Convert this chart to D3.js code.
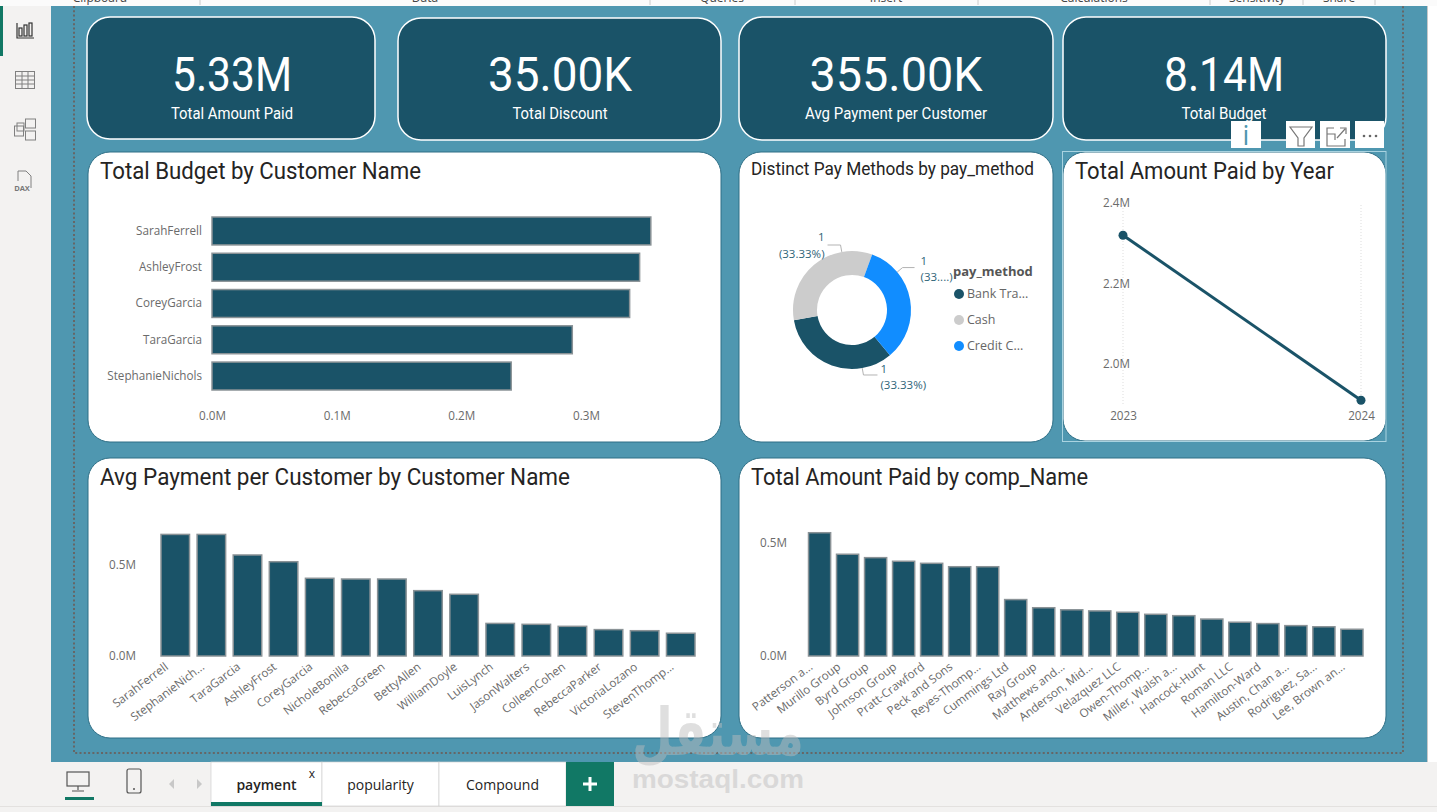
<!DOCTYPE html>
<html>
<head>
<meta charset="utf-8">
<script src="https://cdnjs.cloudflare.com/ajax/libs/d3/7.8.5/d3.min.js"></script>
<style>
    html, body { margin: 0; padding: 0; background: #f3f2f1; overflow: hidden; }
    svg { display: block; }
    text { font-family: "Open Sans", "Noto Sans", sans-serif; }
    .din { font-family: Roboto, sans-serif; font-weight: 400; }
    .axis text { font-size: 11.7px; fill: #6b6b6b; font-family: "Open Sans", sans-serif; }
    .axis .domain { display: none; }
</style>
</head>
<body>
<svg id="page" width="1437" height="812"></svg>

<script>
// data
const kpiValues = ["5.33M", "35.00K", "355.00K", "8.14M"];
const kpiLabels = ["Total Amount Paid", "Total Discount", "Avg Payment per Customer", "Total Budget"];

const budgetNames = ["SarahFerrell", "AshleyFrost", "CoreyGarcia", "TaraGarcia", "StephanieNichols"];
const budgetValues = [0.352, 0.343, 0.335, 0.289, 0.24];
const budgetTicks = [0, 0.1, 0.2, 0.3];

const payMethods = ["Bank Tra...", "Cash", "Credit C..."];
const payCounts = [1, 1, 1];
const payColors = ["#1a5368", "#cccccc", "#118dff"];

const years = [2023, 2024];
const paidByYear = [2.32, 1.91];
const yearTicks = [2.0, 2.2, 2.4];

const avgNames = ["SarahFerrell", "StephanieNich...", "TaraGarcia", "AshleyFrost", "CoreyGarcia", "NicholeBonilla", "RebeccaGreen", "BettyAllen", "WilliamDoyle", "LuisLynch", "JasonWalters", "ColleenCohen", "RebeccaParker", "VictoriaLozano", "StevenThomp..."];
const avgValues = [0.668, 0.668, 0.555, 0.518, 0.427, 0.423, 0.423, 0.359, 0.339, 0.179, 0.174, 0.163, 0.145, 0.139, 0.125];
const avgTicks = [0, 0.5];

const compNames = ["Patterson a...", "Murillo Group", "Byrd Group", "Johnson Group", "Pratt-Crawford", "Peck and Sons", "Reyes-Thomp...", "Cummings Ltd", "Ray Group", "Matthews and...", "Anderson, Mid...", "Velazquez LLC", "Owen-Thomp...", "Miller, Walsh a...", "Hancock-Hunt", "Roman LLC", "Hamilton-Ward", "Austin, Chan a...", "Rodriguez, Sa...", "Lee, Brown an..."];
const compValues = [0.544, 0.449, 0.434, 0.418, 0.409, 0.394, 0.394, 0.249, 0.213, 0.204, 0.199, 0.193, 0.184, 0.178, 0.163, 0.149, 0.143, 0.134, 0.129, 0.118];
const compTicks = [0, 0.5];

const ribbonLabels = ["Clipboard", "Data", "Queries", "Insert", "Calculations", "Sensitivity", "Share"];
const tabNames = ["payment", "popularity", "Compound"];

// colours
const DARK = "#1a5368", BG = "#4f97b0", GREEN = "#117865", BAR_EDGE = "#8a9296";

const svg = d3.select("#page");
const fmtM = d => d.toFixed(1) + "M";

// frame of the app
svg.append("rect").attr("width", 1437).attr("height", 812).attr("fill", "#f3f2f1");
svg.append("rect").attr("x", 51).attr("y", 6).attr("width", 1386).attr("height", 756).attr("fill", "#fff");
svg.append("rect").attr("x", 51).attr("y", 6).attr("width", 1376.5).attr("height", 756).attr("fill", BG);
svg.append("rect").attr("x", 1427).attr("y", 6).attr("width", 1).attr("height", 756).attr("fill", "#c8c8c8");

// ribbon remains
svg.append("rect").attr("width", 1437).attr("height", 6).attr("fill", "#fbfbfb");
const ribbonX = [100, 425, 722, 886, 1094, 1257, 1339];
ribbonLabels.forEach((t, i) => {
    svg.append("text").attr("x", ribbonX[i]).attr("y", 2).attr("text-anchor", "middle")
        .attr("font-size", 12).attr("fill", "#444").text(t);
});
[200, 650, 795, 978, 1210, 1303, 1375].forEach(x => {
    svg.append("line").attr("x1", x).attr("x2", x).attr("y1", 0).attr("y2", 5).attr("stroke", "#ccc");
});

// dotted page guide
svg.append("path").attr("d", "M74,6V753H1403V6")
    .attr("fill", "none").attr("stroke", "#666").attr("stroke-width", 2).attr("stroke-dasharray", "2 2.3");

// sidebar icons
svg.append("rect").attr("x", 0).attr("y", 6).attr("width", 3).attr("height", 50).attr("fill", GREEN);
const navBars = svg.append("g").attr("fill", "none").attr("stroke", "#333").attr("stroke-width", 1.2);
navBars.append("path").attr("d", "M17,23V38H34");
navBars.append("rect").attr("x", 19).attr("y", 28).attr("width", 3).attr("height", 8);
navBars.append("rect").attr("x", 24).attr("y", 25).attr("width", 3).attr("height", 11);
navBars.append("rect").attr("x", 29).attr("y", 23).attr("width", 3).attr("height", 13);
const navGrid = svg.append("g").attr("fill", "none").attr("stroke", "#808080");
navGrid.append("rect").attr("x", 15.5).attr("y", 71.5).attr("width", 19).attr("height", 17);
navGrid.append("path").attr("d", "M15.5,76H34.5M15.5,80H34.5M15.5,84H34.5M22,72V88M28,72V88");
const navModel = svg.append("g").attr("fill", "none").attr("stroke", "#808080");
[[14.5, 126, 9, 10], [25.5, 119, 10, 9], [25.5, 131, 10, 9], [17, 123, 7, 8]].forEach(r => {
    navModel.append("rect").attr("x", r[0]).attr("y", r[1]).attr("width", r[2]).attr("height", r[3]);
});
svg.append("path").attr("d", "M18,171H26L31,176V188M18,171V181")
    .attr("fill", "none").attr("stroke", "#808080");
svg.append("text").attr("x", 22).attr("y", 191).attr("text-anchor", "middle")
    .attr("font-size", 7.5).attr("font-weight", 700).attr("fill", "#777").text("DAX");

// KPI cards, widths squeeze Roboto to the narrow face of the original
const kpiBoxes = [[87, 17, 288, 122], [398, 18, 323, 122], [739, 17, 314, 123], [1063, 17, 323, 123]];
const kpiCentres = [232, 560, 896, 1224];
const kpiValueW = [120, 144, 173, 120];
const kpiLabelW = [122, 95, 182, 85];
kpiBoxes.forEach((b, i) => {
    svg.append("rect").attr("x", b[0]).attr("y", b[1]).attr("width", b[2]).attr("height", b[3])
        .attr("rx", 23).attr("fill", DARK).attr("stroke", "#fff").attr("stroke-width", 1.5);
    svg.append("text").attr("class", "din").attr("x", kpiCentres[i]).attr("y", 91).attr("text-anchor", "middle")
        .attr("font-size", 48).attr("textLength", kpiValueW[i]).attr("lengthAdjust", "spacingAndGlyphs")
        .attr("fill", "#fff").text(kpiValues[i]);
    svg.append("text").attr("class", "din").attr("x", kpiCentres[i]).attr("y", 119).attr("text-anchor", "middle")
        .attr("font-size", 16.5).attr("textLength", kpiLabelW[i]).attr("lengthAdjust", "spacingAndGlyphs")
        .attr("fill", "#fff").text(kpiLabels[i]);
});

// white panels
function panel(x, y, w, h, title, size, titleW) {
    svg.append("rect").attr("x", x).attr("y", y).attr("width", w).attr("height", h)
        .attr("rx", 22).attr("fill", "#fff").attr("stroke", "#2f6f86");
    svg.append("text").attr("class", "din").attr("x", x + 12).attr("y", y + (size > 20 ? 27 : 23))
        .attr("font-size", size).attr("textLength", titleW).attr("lengthAdjust", "spacingAndGlyphs")
        .attr("fill", "#252423").text(title);
}
panel(88, 152, 633, 290, "Total Budget by Customer Name", 23, 321);
panel(739, 152, 314, 290, "Distinct Pay Methods by pay_method", 17.5, 283);
panel(1063, 152, 323, 289, "Total Amount Paid by Year", 23, 259);
panel(88, 458, 633, 280, "Avg Payment per Customer by Customer Name", 23, 470);
panel(739, 458, 647, 280, "Total Amount Paid by comp_Name", 23, 337);

// horizontal bars
const budgetX = d3.scaleLinear().domain([0, 0.3]).range([212, 586]);
const budgetY = d3.scaleBand().domain(budgetNames).range([217, 390]).paddingInner(0.23).paddingOuter(0);
svg.append("g").attr("class", "axis").attr("transform", "translate(0,416)")
    .call(d3.axisBottom(budgetX).tickValues(budgetTicks).tickFormat(fmtM).tickSize(0).tickPadding(0))
    .selectAll("text").attr("dy", "0.35em");
svg.append("g").attr("class", "axis").attr("transform", "translate(212,0)")
    .call(d3.axisLeft(budgetY).tickSize(0).tickPadding(10));
svg.append("g").selectAll("rect").data(budgetValues).join("rect")
    .attr("x", budgetX(0))
    .attr("y", (d, i) => budgetY(budgetNames[i]))
    .attr("width", d => budgetX(d) - budgetX(0))
    .attr("height", budgetY.bandwidth())
    .attr("fill", DARK).attr("stroke", BAR_EDGE).attr("stroke-width", 1.5);

// donut
const donutCx = 852, donutCy = 310, donutR = 59;
const toRad = d => d * Math.PI / 180;
const pie = d3.pie().sort(null).startAngle(toRad(140)).endAngle(toRad(500));
const arc = d3.arc().innerRadius(35).outerRadius(donutR);
const arcs = pie(payCounts);
const donut = svg.append("g").attr("transform", `translate(${donutCx},${donutCy})`);
donut.selectAll("path").data(arcs).join("path")
    .attr("d", arc).attr("fill", (d, i) => payColors[i]);

// leader lines leave the ring off the slice middle, as in the original
const labelSetup = [
    { off: -30, anchor: "start", side: 1, run: 14, gap: 3, y1: 373, y2: 389 },
    { off: 30, anchor: "end", side: -1, run: 13, gap: -3, y1: 241, y2: 258 },
    { off: -30, anchor: "start", side: 1, run: 12, gap: 6, y1: 265, y2: 281 }
];
const labelText = ["(33.33%)", "(33.33%)", "(33....)"];
arcs.forEach((a, i) => {
    const s = labelSetup[i];
    const ang = (a.startAngle + a.endAngle) / 2 + toRad(s.off);
    const px = r => donutCx + r * Math.sin(ang), py = r => donutCy - r * Math.cos(ang);
    const endX = px(66) + s.side * s.run;
    svg.append("path").attr("d", d3.line()([[px(donutR), py(donutR)], [px(66), py(66)], [endX, py(66)]]))
        .attr("fill", "none").attr("stroke", "#b3b3b3");
    const lab = svg.append("g").attr("fill", "#2f6478").attr("font-size", 11.5).attr("text-anchor", s.anchor);
    lab.append("text").attr("x", endX + s.gap).attr("y", s.y1).text(payCounts[i]);
    lab.append("text").attr("x", endX + s.gap).attr("y", s.y2).text(labelText[i]);
});

// donut legend
svg.append("text").attr("x", 953).attr("y", 276).attr("font-size", 13).attr("font-weight", 700)
    .attr("fill", "#555").text("pay_method");
const legendY = d3.scalePoint().domain(payMethods).range([294, 346]);
const legend = svg.append("g").selectAll("g").data(payMethods).join("g")
    .attr("transform", d => `translate(959,${legendY(d)})`);
legend.append("circle").attr("r", 5).attr("fill", (d, i) => payColors[i]);
legend.append("text").attr("x", 8).attr("dy", "0.35em").attr("font-size", 12.5).attr("fill", "#666").text(d => d);

// line chart
const yearX = d3.scalePoint().domain(years).range([1123, 1361]);
const yearY = d3.scaleLinear().domain([2.0, 2.4]).range([364, 203]);
svg.append("g").selectAll("line").data(years).join("line")
    .attr("x1", d => yearX(d)).attr("x2", d => yearX(d)).attr("y1", 205).attr("y2", 405)
    .attr("stroke", "#ddd").attr("stroke-dasharray", "1 2");
svg.append("g").attr("class", "axis").attr("transform", "translate(1130,0)")
    .call(d3.axisLeft(yearY).tickValues(yearTicks).tickFormat(fmtM).tickSize(0).tickPadding(0));
svg.append("g").attr("class", "axis").attr("transform", "translate(0,416)")
    .call(d3.axisBottom(yearX).tickSize(0).tickPadding(0))
    .selectAll("text").attr("dy", "0.35em");
svg.append("path").datum(paidByYear)
    .attr("d", d3.line().x((d, i) => yearX(years[i])).y(d => yearY(d)))
    .attr("fill", "none").attr("stroke", DARK).attr("stroke-width", 3);
svg.append("g").selectAll("circle").data(paidByYear).join("circle")
    .attr("cx", (d, i) => yearX(years[i])).attr("cy", d => yearY(d)).attr("r", 4.5).attr("fill", DARK);

// focus frame and visual header on the line chart
svg.append("rect").attr("x", 1062.5).attr("y", 151.5).attr("width", 323.5).attr("height", 290)
    .attr("fill", "none").attr("stroke", "#a9d3e0");
[[1231, 30], [1286, 29], [1320, 30], [1355, 29]].forEach(b => {
    svg.append("rect").attr("x", b[0]).attr("y", 121).attr("width", b[1]).attr("height", 27).attr("fill", "#fff");
});
svg.append("text").attr("x", 1246).attr("y", 145).attr("text-anchor", "middle").attr("font-size", 27)
    .attr("fill", "#4f97b0").text("i");
svg.append("path").attr("d", "M1290,127H1312L1304,138V146H1298V138Z").attr("fill", "none").attr("stroke", "#777").attr("stroke-width", 1.2);
svg.append("path").attr("d", "M1334,128H1327V146H1345V139M1335,140V134H1327M1337,138L1345,129M1340,128H1346V134")
    .attr("fill", "none").attr("stroke", "#777").attr("stroke-width", 1.2);
[1364, 1370, 1376].forEach(x => {
    svg.append("circle").attr("cx", x).attr("cy", 136).attr("r", 1.3).attr("fill", "#666");
});

// vertical bar charts
function columns(names, values, ticks, xr, y0, yTickPx, tickVal, labelX) {
    const x = d3.scaleBand().domain(names).range(xr).paddingInner(0.21).paddingOuter(0);
    const y = d3.scaleLinear().domain([0, tickVal]).range([y0, yTickPx]);
    svg.append("g").attr("class", "axis").attr("transform", `translate(${labelX},0)`)
        .call(d3.axisLeft(y).tickValues(ticks).tickFormat(fmtM).tickSize(0).tickPadding(0));
    svg.append("g").attr("class", "axis").attr("transform", `translate(0,${y0 + 6})`)
        .call(d3.axisBottom(x).tickSize(0).tickPadding(0))
        .selectAll("text")
        .attr("text-anchor", "end").attr("dy", 5).attr("dx", -4)
        .attr("transform", "translate(-6,0) rotate(-37)");
    svg.append("g").selectAll("rect").data(values).join("rect")
        .attr("x", (d, i) => x(names[i]))
        .attr("y", d => y(d))
        .attr("width", x.bandwidth())
        .attr("height", d => y0 - y(d))
        .attr("fill", DARK).attr("stroke", BAR_EDGE).attr("stroke-width", 1.5);
}
columns(avgNames, avgValues, avgTicks, [161, 695], 656, 565, 0.5, 136);
columns(compNames, compValues, compTicks, [808.5, 1363], 656, 542.7, 0.5, 787);

// tabs
svg.append("rect").attr("x", 51).attr("y", 762).attr("width", 1386).attr("height", 44).attr("fill", "#f3f2f1");
svg.append("rect").attr("x", 0).attr("y", 806).attr("width", 1437).attr("height", 1).attr("fill", "#e3e1df");
const tabEdges = [211, 322, 439, 566];
tabNames.forEach((t, i) => {
    svg.append("rect").attr("x", tabEdges[i]).attr("y", 762).attr("width", tabEdges[i + 1] - tabEdges[i]).attr("height", 44)
        .attr("fill", "#fff").attr("stroke", "#d0d0d0").attr("stroke-width", 0.7);
    svg.append("text").attr("x", (tabEdges[i] + tabEdges[i + 1]) / 2).attr("y", 790).attr("text-anchor", "middle")
        .attr("font-size", 14).attr("font-weight", i === 0 ? 600 : 400).attr("fill", "#252423").text(t);
});
svg.append("rect").attr("x", 211).attr("y", 802).attr("width", 111).attr("height", 4).attr("fill", GREEN);
svg.append("text").attr("x", 312).attr("y", 778).attr("text-anchor", "middle").attr("font-size", 12).attr("fill", "#222").text("x");
svg.append("rect").attr("x", 566).attr("y", 762).attr("width", 48).attr("height", 44).attr("fill", GREEN);
svg.append("path").attr("d", "M590,777V791M583,784H597").attr("stroke", "#fff").attr("stroke-width", 3);

// report view icons
svg.append("rect").attr("x", 67).attr("y", 772).attr("width", 22).attr("height", 14).attr("fill", "none").attr("stroke", "#555").attr("stroke-width", 1.2);
svg.append("path").attr("d", "M78,786V790M72,791H84").attr("stroke", "#555").attr("stroke-width", 1.2);
svg.append("rect").attr("x", 65).attr("y", 797).attr("width", 29).attr("height", 3).attr("fill", GREEN);
svg.append("rect").attr("x", 127).attr("y", 769).attr("width", 14).attr("height", 24).attr("rx", 2).attr("fill", "none").attr("stroke", "#555").attr("stroke-width", 1.2);
svg.append("circle").attr("cx", 134).attr("cy", 789).attr("r", 1).attr("fill", "#555");
svg.append("path").attr("d", "M174,779L169,784L174,789Z").attr("fill", "#c8c8c8");
svg.append("path").attr("d", "M197,779L202,784L197,789Z").attr("fill", "#c8c8c8");

// watermark
svg.append("text").attr("x", 718).attr("y", 755).attr("text-anchor", "middle").attr("font-size", 66)
    .attr("textLength", 172).attr("lengthAdjust", "spacingAndGlyphs")
    .attr("font-weight", 700).attr("fill", "#bdbdbd").attr("opacity", 0.47)
    .style("font-family", "'DejaVu Sans', sans-serif").text("مستقل");
svg.append("text").attr("x", 718).attr("y", 788).attr("text-anchor", "middle").attr("font-size", 26)
    .attr("textLength", 172).attr("lengthAdjust", "spacingAndGlyphs")
    .attr("font-weight", 700).attr("fill", "#bdbdbd").attr("opacity", 0.47)
    .style("font-family", "'Liberation Sans', sans-serif").text("mostaql.com");
</script>
</body>
</html>
